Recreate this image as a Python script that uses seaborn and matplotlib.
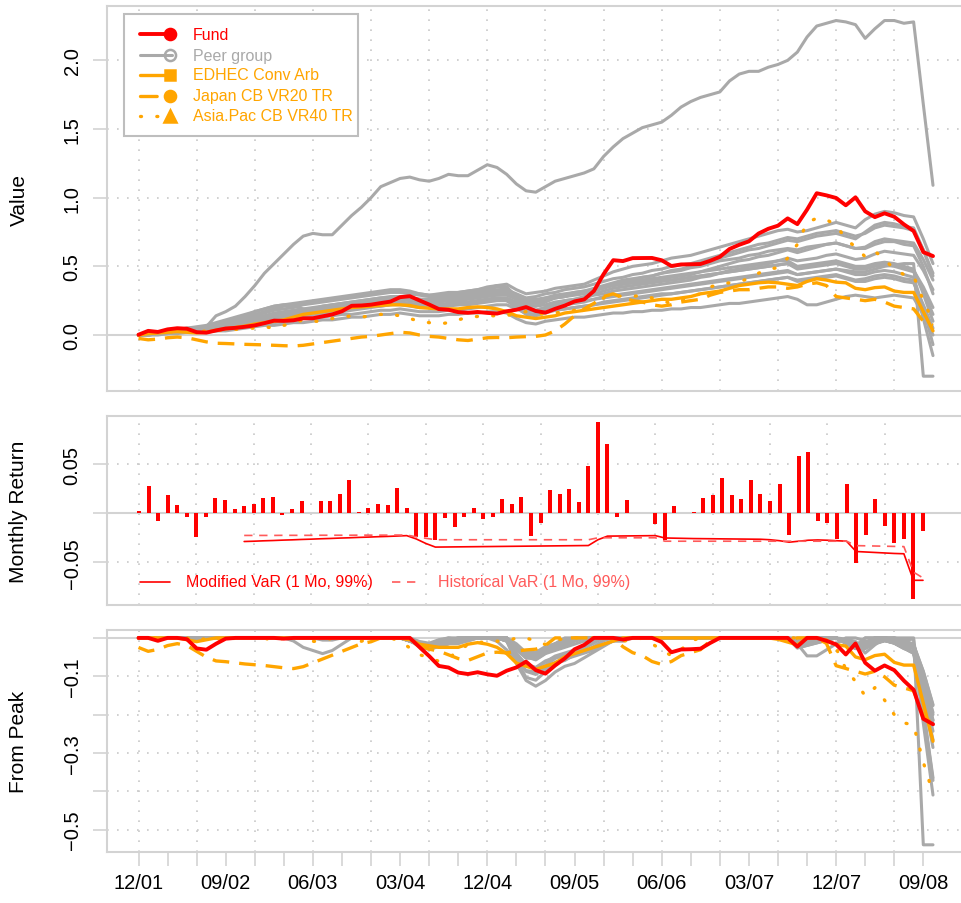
import numpy as np
import matplotlib
matplotlib.use("Agg")
import matplotlib.pyplot as plt
from matplotlib.lines import Line2D
from matplotlib.patches import Rectangle
import seaborn as sns

# ---------------- data ----------------
N_MONTHS = 83  # 12/01 .. 10/08
tick_labels = ["12/01", "09/02", "06/03", "03/04", "12/04", "09/05",
               "06/06", "03/07", "12/07", "09/08"]

fund_returns = [
    0.002, 0.028, -0.0076, 0.0184, 0.008, -0.0035, -0.024, -0.0035, 0.016, 0.0135,
    0.0045, 0.0076, 0.0094, 0.0153, 0.017, -0.002, 0.0042, 0.0128, 0.0003, 0.0125,
    0.0125, 0.020, 0.034, 0.0017, 0.005, 0.0094, 0.0087, 0.026, 0.0056, -0.024,
    -0.024, -0.027, -0.0045, -0.0142, -0.0042, 0.0052, -0.0059, -0.0042, 0.0146, 0.0094,
    0.0163, -0.0236, -0.010, 0.0236, 0.0198, 0.025, 0.0118, 0.0486, 0.093, 0.0705,
    -0.0042, 0.0139, 0.0005, 0.0003, -0.0108, -0.027, 0.0076, 0.0007, 0.0014, 0.0153,
    0.0188, 0.0365, 0.0188, 0.015, 0.034, 0.0198, 0.0128, 0.0295, -0.0226, 0.0583,
    0.0625, -0.0076, -0.0094, -0.0267, 0.0299, -0.051, -0.0222, 0.015, -0.0132, -0.030,
    -0.0267, -0.0875, -0.018]

edhec = [
    0.00, 0.01, 0.015, 0.02, 0.025, 0.02, 0.015, 0.02, 0.035, 0.045,
    0.055, 0.065, 0.08, 0.09, 0.10, 0.11, 0.13, 0.15, 0.16, 0.17,
    0.18, 0.19, 0.20, 0.205, 0.21, 0.215, 0.22, 0.22, 0.215, 0.20,
    0.195, 0.19, 0.19, 0.19, 0.20, 0.205, 0.20, 0.19, 0.17, 0.14,
    0.13, 0.12, 0.13, 0.14, 0.16, 0.17, 0.18, 0.19, 0.20, 0.21,
    0.22, 0.23, 0.24, 0.25, 0.26, 0.26, 0.27, 0.28, 0.30, 0.31,
    0.32, 0.34, 0.36, 0.37, 0.38, 0.385, 0.38, 0.37, 0.36, 0.39,
    0.41, 0.40, 0.385, 0.38, 0.34, 0.33, 0.345, 0.35, 0.32, 0.31,
    0.31, 0.17, 0.03]

japan_cb = [
    -0.025, -0.035, -0.03, -0.02, -0.015, -0.02, -0.035, -0.05, -0.06, -0.062,
    -0.065, -0.068, -0.07, -0.072, -0.075, -0.078, -0.08, -0.075, -0.065, -0.055,
    -0.045, -0.035, -0.025, -0.015, -0.01, 0.00, 0.01, 0.02, 0.015, 0.00,
    -0.01, -0.015, -0.025, -0.035, -0.04, -0.03, -0.02, -0.018, -0.02, -0.015,
    -0.012, -0.01, 0.00, 0.03, 0.08, 0.14, 0.19, 0.23, 0.28, 0.30,
    0.27, 0.25, 0.24, 0.22, 0.21, 0.22, 0.24, 0.25, 0.26, 0.29,
    0.31, 0.32, 0.33, 0.33, 0.34, 0.35, 0.35, 0.34, 0.35, 0.37,
    0.38, 0.36, 0.28, 0.27, 0.26, 0.25, 0.26, 0.24, 0.21, 0.20,
    0.19, 0.10, 0.07]

asiapac_cb = [
    0.00, 0.01, 0.015, 0.02, 0.03, 0.03, 0.02, 0.03, 0.04, 0.03,
    0.04, 0.05, 0.05, 0.06, 0.05, 0.07, 0.09, 0.11, 0.10, 0.10,
    0.12, 0.13, 0.14, 0.13, 0.14, 0.15, 0.15, 0.14, 0.12, 0.10,
    0.09, 0.08, 0.09, 0.11, 0.13, 0.135, 0.14, 0.14, 0.14, 0.16,
    0.17, 0.16, 0.15, 0.16, 0.17, 0.18, 0.20, 0.22, 0.27, 0.29,
    0.28, 0.28, 0.29, 0.27, 0.25, 0.23, 0.25, 0.28, 0.30, 0.35,
    0.37, 0.38, 0.39, 0.41, 0.45, 0.48, 0.49, 0.56, 0.66, 0.82,
    0.85, 0.84, 0.80, 0.70, 0.64, 0.57, 0.61, 0.55, 0.48, 0.44,
    0.43, 0.25, 0.10]

peer_a = [
    0.00, 0.01, 0.02, 0.03, 0.04, 0.05, 0.05, 0.06, 0.08, 0.10,
    0.12, 0.14, 0.17, 0.19, 0.21, 0.22, 0.23, 0.24, 0.25, 0.26,
    0.27, 0.28, 0.29, 0.30, 0.31, 0.32, 0.33, 0.33, 0.32, 0.30,
    0.29, 0.30, 0.31, 0.31, 0.32, 0.33, 0.34, 0.36, 0.37, 0.33,
    0.30, 0.31, 0.32, 0.34, 0.35, 0.36, 0.37, 0.40, 0.43, 0.46,
    0.48, 0.50, 0.51, 0.52, 0.54, 0.56, 0.57, 0.58, 0.60, 0.62,
    0.64, 0.66, 0.68, 0.70, 0.72, 0.74, 0.76, 0.77, 0.75, 0.76,
    0.78, 0.80, 0.82, 0.80, 0.78, 0.84, 0.88, 0.90, 0.89, 0.87,
    0.86, 0.70, 0.52]
peer_b = [
    0.00, 0.01, 0.02, 0.02, 0.03, 0.04, 0.04, 0.05, 0.07, 0.09,
    0.10, 0.12, 0.14, 0.16, 0.18, 0.19, 0.20, 0.22, 0.23, 0.24,
    0.25, 0.26, 0.27, 0.28, 0.29, 0.30, 0.31, 0.31, 0.30, 0.29,
    0.28, 0.28, 0.29, 0.30, 0.30, 0.31, 0.32, 0.33, 0.33, 0.30,
    0.27, 0.28, 0.30, 0.31, 0.33, 0.34, 0.35, 0.37, 0.39, 0.41,
    0.42, 0.44, 0.45, 0.47, 0.48, 0.50, 0.51, 0.52, 0.54, 0.56,
    0.58, 0.60, 0.62, 0.64, 0.66, 0.67, 0.69, 0.71, 0.70, 0.72,
    0.74, 0.75, 0.76, 0.74, 0.72, 0.74, 0.78, 0.80, 0.79, 0.78,
    0.76, 0.62, 0.45]
peer_c = [
    0.00, 0.01, 0.01, 0.02, 0.03, 0.03, 0.03, 0.04, 0.05, 0.07,
    0.08, 0.10, 0.12, 0.13, 0.15, 0.16, 0.17, 0.18, 0.19, 0.20,
    0.21, 0.22, 0.23, 0.24, 0.25, 0.26, 0.27, 0.27, 0.26, 0.25,
    0.24, 0.25, 0.26, 0.26, 0.27, 0.28, 0.29, 0.30, 0.30, 0.27,
    0.24, 0.24, 0.26, 0.27, 0.28, 0.29, 0.30, 0.32, 0.34, 0.36,
    0.37, 0.38, 0.39, 0.40, 0.41, 0.42, 0.43, 0.44, 0.46, 0.48,
    0.50, 0.52, 0.54, 0.55, 0.57, 0.58, 0.60, 0.62, 0.60, 0.62,
    0.64, 0.66, 0.67, 0.65, 0.63, 0.64, 0.68, 0.70, 0.69, 0.68,
    0.67, 0.55, 0.40]
peer_d = [
    0.00, 0.00, 0.01, 0.02, 0.02, 0.03, 0.03, 0.04, 0.05, 0.06,
    0.07, 0.09, 0.10, 0.12, 0.13, 0.14, 0.15, 0.16, 0.17, 0.18,
    0.19, 0.20, 0.21, 0.22, 0.22, 0.23, 0.24, 0.24, 0.23, 0.22,
    0.22, 0.22, 0.23, 0.23, 0.24, 0.25, 0.26, 0.27, 0.27, 0.24,
    0.21, 0.21, 0.22, 0.24, 0.25, 0.26, 0.27, 0.29, 0.30, 0.32,
    0.33, 0.34, 0.35, 0.36, 0.37, 0.38, 0.39, 0.40, 0.42, 0.43,
    0.45, 0.47, 0.48, 0.50, 0.51, 0.52, 0.54, 0.56, 0.54, 0.55,
    0.56, 0.58, 0.59, 0.57, 0.55, 0.56, 0.59, 0.61, 0.60, 0.59,
    0.58, 0.47, 0.33]
peer_e = [
    0.00, 0.01, 0.02, 0.03, 0.03, 0.04, 0.05, 0.06, 0.07, 0.09,
    0.11, 0.13, 0.15, 0.17, 0.19, 0.21, 0.22, 0.23, 0.24, 0.25,
    0.26, 0.27, 0.28, 0.29, 0.30, 0.31, 0.32, 0.32, 0.31, 0.30,
    0.29, 0.29, 0.30, 0.31, 0.32, 0.33, 0.35, 0.36, 0.35, 0.28,
    0.22, 0.21, 0.24, 0.27, 0.28, 0.30, 0.31, 0.33, 0.35, 0.37,
    0.38, 0.39, 0.40, 0.41, 0.42, 0.43, 0.44, 0.45, 0.46, 0.47,
    0.48, 0.49, 0.50, 0.51, 0.52, 0.53, 0.54, 0.54, 0.50, 0.51,
    0.52, 0.53, 0.54, 0.52, 0.50, 0.50, 0.52, 0.53, 0.52, 0.50,
    0.48, 0.30, 0.10]
peer_f = [
    0.00, 0.00, 0.01, 0.01, 0.02, 0.02, 0.03, 0.03, 0.04, 0.05,
    0.06, 0.07, 0.09, 0.10, 0.11, 0.12, 0.13, 0.14, 0.14, 0.15,
    0.16, 0.17, 0.18, 0.19, 0.20, 0.21, 0.22, 0.22, 0.21, 0.20,
    0.20, 0.20, 0.21, 0.22, 0.22, 0.23, 0.24, 0.25, 0.25, 0.22,
    0.19, 0.18, 0.20, 0.22, 0.23, 0.24, 0.25, 0.26, 0.28, 0.29,
    0.30, 0.31, 0.32, 0.33, 0.34, 0.35, 0.36, 0.37, 0.38, 0.39,
    0.40, 0.41, 0.42, 0.43, 0.44, 0.45, 0.46, 0.47, 0.44, 0.45,
    0.46, 0.47, 0.48, 0.46, 0.44, 0.44, 0.46, 0.47, 0.46, 0.44,
    0.42, 0.20, -0.07]
peer_g = [
    0.00, 0.00, 0.01, 0.01, 0.02, 0.02, 0.02, 0.03, 0.03, 0.04,
    0.05, 0.06, 0.07, 0.08, 0.09, 0.10, 0.11, 0.12, 0.12, 0.13,
    0.14, 0.15, 0.15, 0.16, 0.17, 0.18, 0.18, 0.19, 0.18, 0.17,
    0.17, 0.17, 0.18, 0.18, 0.19, 0.20, 0.21, 0.22, 0.22, 0.19,
    0.16, 0.15, 0.17, 0.18, 0.19, 0.20, 0.21, 0.22, 0.23, 0.24,
    0.25, 0.26, 0.27, 0.28, 0.29, 0.30, 0.31, 0.32, 0.33, 0.34,
    0.35, 0.36, 0.37, 0.38, 0.39, 0.40, 0.41, 0.42, 0.40, 0.41,
    0.42, 0.43, 0.44, 0.42, 0.40, 0.41, 0.43, 0.44, 0.43, 0.41,
    0.40, 0.12, -0.15]
peer_h = [
    0.00, 0.00, 0.00, 0.01, 0.01, 0.02, 0.02, 0.02, 0.03, 0.03,
    0.04, 0.05, 0.06, 0.07, 0.07, 0.08, 0.09, 0.09, 0.10, 0.11,
    0.11, 0.12, 0.13, 0.13, 0.14, 0.15, 0.15, 0.16, 0.15, 0.14,
    0.14, 0.14, 0.15, 0.15, 0.16, 0.16, 0.17, 0.17, 0.16, 0.12,
    0.09, 0.08, 0.10, 0.11, 0.12, 0.13, 0.13, 0.14, 0.15, 0.16,
    0.16, 0.17, 0.17, 0.18, 0.18, 0.19, 0.19, 0.20, 0.20, 0.21,
    0.22, 0.23, 0.23, 0.24, 0.25, 0.26, 0.27, 0.28, 0.26, 0.22,
    0.22, 0.24, 0.26, 0.28, 0.29, 0.28, 0.27, 0.28, 0.29, 0.28,
    0.27, 0.15, 0.00]
peer_i = [
    0.00, 0.01, 0.01, 0.02, 0.03, 0.04, 0.04, 0.05, 0.06, 0.07,
    0.09, 0.10, 0.12, 0.14, 0.15, 0.16, 0.17, 0.18, 0.19, 0.21,
    0.22, 0.23, 0.24, 0.25, 0.26, 0.27, 0.28, 0.28, 0.27, 0.26,
    0.25, 0.26, 0.27, 0.27, 0.28, 0.29, 0.30, 0.31, 0.31, 0.29,
    0.26, 0.26, 0.27, 0.29, 0.30, 0.31, 0.32, 0.33, 0.35, 0.36,
    0.37, 0.38, 0.38, 0.39, 0.40, 0.40, 0.41, 0.42, 0.43, 0.44,
    0.45, 0.46, 0.47, 0.48, 0.49, 0.50, 0.51, 0.52, 0.49, 0.50,
    0.51, 0.52, 0.53, 0.51, 0.49, 0.49, 0.51, 0.52, 0.51, 0.49,
    0.47, 0.35, 0.20]
peer_j = [
    0.00, 0.01, 0.02, 0.02, 0.03, 0.04, 0.05, 0.05, 0.06, 0.08,
    0.09, 0.11, 0.13, 0.14, 0.16, 0.17, 0.18, 0.19, 0.20, 0.21,
    0.22, 0.23, 0.24, 0.25, 0.26, 0.27, 0.27, 0.28, 0.27, 0.26,
    0.26, 0.26, 0.27, 0.28, 0.29, 0.30, 0.31, 0.32, 0.31, 0.28,
    0.25, 0.25, 0.27, 0.28, 0.29, 0.31, 0.32, 0.34, 0.36, 0.38,
    0.40, 0.41, 0.42, 0.43, 0.45, 0.46, 0.47, 0.49, 0.50, 0.52,
    0.54, 0.55, 0.56, 0.58, 0.59, 0.61, 0.62, 0.63, 0.62, 0.64,
    0.65, 0.66, 0.67, 0.65, 0.63, 0.63, 0.66, 0.68, 0.68, 0.66,
    0.65, 0.50, 0.30]
peer_k = [
    0.00, 0.00, 0.01, 0.02, 0.02, 0.03, 0.03, 0.04, 0.05, 0.06,
    0.07, 0.08, 0.10, 0.11, 0.12, 0.13, 0.14, 0.15, 0.16, 0.16,
    0.17, 0.18, 0.19, 0.20, 0.21, 0.21, 0.22, 0.23, 0.22, 0.21,
    0.21, 0.21, 0.22, 0.22, 0.23, 0.24, 0.25, 0.26, 0.25, 0.20,
    0.15, 0.14, 0.16, 0.18, 0.19, 0.20, 0.21, 0.22, 0.24, 0.25,
    0.26, 0.27, 0.28, 0.29, 0.30, 0.30, 0.31, 0.32, 0.33, 0.34,
    0.35, 0.36, 0.37, 0.38, 0.39, 0.40, 0.41, 0.42, 0.39, 0.40,
    0.41, 0.42, 0.43, 0.41, 0.39, 0.39, 0.41, 0.42, 0.41, 0.39,
    0.38, 0.22, 0.05]
peer_l = [
    0.00, 0.01, 0.01, 0.02, 0.03, 0.03, 0.04, 0.05, 0.06, 0.07,
    0.08, 0.10, 0.11, 0.13, 0.14, 0.15, 0.16, 0.17, 0.18, 0.19,
    0.20, 0.21, 0.22, 0.23, 0.24, 0.25, 0.25, 0.26, 0.25, 0.24,
    0.23, 0.24, 0.25, 0.25, 0.26, 0.27, 0.28, 0.29, 0.29, 0.26,
    0.23, 0.23, 0.25, 0.27, 0.28, 0.30, 0.31, 0.33, 0.35, 0.37,
    0.39, 0.40, 0.42, 0.43, 0.45, 0.47, 0.48, 0.50, 0.52, 0.54,
    0.56, 0.58, 0.60, 0.62, 0.63, 0.65, 0.67, 0.69, 0.68, 0.70,
    0.72, 0.73, 0.74, 0.72, 0.70, 0.75, 0.80, 0.82, 0.81, 0.79,
    0.78, 0.62, 0.43]
peer_m = [
    0.00, 0.01, 0.01, 0.02, 0.02, 0.03, 0.04, 0.04, 0.05, 0.06,
    0.08, 0.09, 0.10, 0.12, 0.13, 0.14, 0.15, 0.16, 0.17, 0.18,
    0.19, 0.20, 0.21, 0.21, 0.22, 0.23, 0.24, 0.24, 0.23, 0.22,
    0.22, 0.22, 0.23, 0.24, 0.24, 0.25, 0.26, 0.27, 0.26, 0.22,
    0.18, 0.17, 0.19, 0.21, 0.22, 0.23, 0.24, 0.26, 0.27, 0.28,
    0.29, 0.30, 0.31, 0.32, 0.33, 0.34, 0.35, 0.36, 0.37, 0.38,
    0.39, 0.40, 0.41, 0.42, 0.43, 0.44, 0.45, 0.46, 0.44, 0.45,
    0.46, 0.47, 0.48, 0.47, 0.46, 0.46, 0.48, 0.50, 0.51, 0.52,
    0.52, -0.30, -0.30]
peer_n = [
    0.00, 0.01, 0.02, 0.03, 0.04, 0.05, 0.06, 0.07, 0.09, 0.11,
    0.13, 0.15, 0.17, 0.19, 0.21, 0.22, 0.21, 0.19, 0.18, 0.17,
    0.18, 0.20, 0.22, 0.24, 0.25, 0.26, 0.27, 0.28, 0.27, 0.26,
    0.26, 0.27, 0.28, 0.29, 0.30, 0.31, 0.33, 0.35, 0.34, 0.26,
    0.20, 0.18, 0.20, 0.23, 0.25, 0.26, 0.28, 0.30, 0.32, 0.34,
    0.35, 0.36, 0.37, 0.38, 0.39, 0.40, 0.41, 0.42, 0.43, 0.44,
    0.45, 0.46, 0.47, 0.48, 0.49, 0.50, 0.51, 0.52, 0.48, 0.49,
    0.50, 0.51, 0.52, 0.50, 0.48, 0.48, 0.50, 0.51, 0.50, 0.48,
    0.46, 0.32, 0.15]
peer_o = [
    0.00, 0.01, 0.01, 0.02, 0.02, 0.03, 0.03, 0.06, 0.14, 0.17,
    0.21, 0.28, 0.36, 0.45, 0.52, 0.59, 0.66, 0.72, 0.74, 0.73,
    0.73, 0.80, 0.87, 0.93, 1.00, 1.08, 1.11, 1.14, 1.15, 1.13,
    1.12, 1.14, 1.17, 1.16, 1.16, 1.20, 1.24, 1.22, 1.17, 1.10,
    1.05, 1.04, 1.08, 1.12, 1.14, 1.16, 1.18, 1.21, 1.30, 1.37,
    1.43, 1.47, 1.51, 1.53, 1.55, 1.60, 1.66, 1.70, 1.73, 1.75,
    1.77, 1.85, 1.90, 1.92, 1.92, 1.95, 1.97, 2.00, 2.06, 2.17,
    2.25, 2.27, 2.29, 2.28, 2.26, 2.16, 2.23, 2.29, 2.29, 2.27,
    2.28, 1.68, 1.09]

VAR_START = 11
modified_var = [
    -0.0288, -0.0285, -0.0281, -0.0278, -0.0274, -0.0271, -0.0267, -0.0264, -0.0260,
    -0.0257, -0.0253, -0.0250, -0.0246, -0.0243, -0.0239, -0.0236, -0.0232, -0.0228,
    -0.0262, -0.0308, -0.0345, -0.0344, -0.0343, -0.0342, -0.0341, -0.0340, -0.0339,
    -0.0338, -0.0337, -0.0336, -0.0335, -0.0334, -0.0333, -0.0332, -0.0331, -0.0330,
    -0.0329, -0.0270, -0.0233, -0.0232, -0.0231, -0.0230, -0.0229, -0.0228, -0.0252,
    -0.0254, -0.0256, -0.0258, -0.0259, -0.0260, -0.0261, -0.0262, -0.0263, -0.0264,
    -0.0265, -0.0270, -0.0280, -0.0295, -0.0285, -0.0275, -0.0272, -0.0275, -0.0280,
    -0.0285, -0.0390, -0.0395, -0.0400, -0.0405, -0.0410, -0.0413, -0.0684, -0.0684]
historical_var = [
    -0.0226, -0.0226, -0.0226, -0.0226, -0.0225, -0.0225, -0.0225, -0.0225, -0.0224,
    -0.0224, -0.0224, -0.0224, -0.0223, -0.0223, -0.0223, -0.0223, -0.0222, -0.0222,
    -0.0240, -0.0255, -0.0270, -0.0270, -0.0270, -0.0270, -0.0270, -0.0270, -0.0270,
    -0.0270, -0.0270, -0.0270, -0.0270, -0.0270, -0.0270, -0.0270, -0.0270, -0.0270,
    -0.0270, -0.0250, -0.0250, -0.0250, -0.0250, -0.0250, -0.0250, -0.0250, -0.0285,
    -0.0285, -0.0285, -0.0285, -0.0285, -0.0285, -0.0285, -0.0285, -0.0285, -0.0285,
    -0.0285, -0.0285, -0.0285, -0.0285, -0.0285, -0.0285, -0.0285, -0.0285, -0.0285,
    -0.0285, -0.0330, -0.0332, -0.0334, -0.0336, -0.0338, -0.0340, -0.0600, -0.0660]

peers = [peer_a, peer_b, peer_c, peer_d, peer_e, peer_f, peer_g, peer_h,
         peer_i, peer_j, peer_k, peer_l, peer_m, peer_n, peer_o]
for p in peers + [edhec, japan_cb, asiapac_cb, fund_returns]:
    assert len(p) == N_MONTHS, len(p)
assert len(modified_var) == N_MONTHS - VAR_START
assert len(historical_var) == N_MONTHS - VAR_START

# ---------------- derived series ----------------
idx = np.arange(N_MONTHS)
fund_value = np.cumprod(1 + np.array(fund_returns)) - 1


def drawdown(values):
    wealth = 1 + np.asarray(values, dtype=float)
    peak = np.maximum.accumulate(np.maximum(wealth, 1.0))
    return wealth / peak - 1


# ---------------- style ----------------
sns.set_theme(style="white")
plt.rcParams["font.family"] = ["Liberation Sans", "DejaVu Sans"]
plt.rcParams["axes.unicode_minus"] = True

RED = "#FF0000"
GREY = "#A9A9A9"
ORANGE = "#FFA500"
LIGHTRED = "#FF5A5A"
FRAME = "#D3D3D3"
GRID = "#C8C8C8"

W, H = 961, 904
fig = plt.figure(figsize=(W / 100, H / 100), dpi=100)


def fx(px):
    return px / W


def fy(py):
    return 1 - py / H


LEFT, RIGHT = 106.7, 963.0
ax_top = fig.add_axes([fx(LEFT), fy(392.3), (RIGHT - LEFT) / W, (392.3 - 6.7) / H])
ax_mid = fig.add_axes([fx(LEFT), fy(605.7), (RIGHT - LEFT) / W, (605.7 - 417.3) / H])
ax_bot = fig.add_axes([fx(LEFT), fy(853.3), (RIGHT - LEFT) / W, (853.3 - 631.0) / H])

xlim_main = ((LEFT - 138.5) / 9.689, (RIGHT - 138.5) / 9.689)
xlim_mid = ((LEFT - 139.0) / 9.561, (RIGHT - 139.0) / 9.561)

DOT = (0, (1, 5))


def frame(ax, xlim, ylim, hgrid, zero=True):
    ax.set_xlim(*xlim)
    ax.set_ylim(*ylim)
    for s in ax.spines.values():
        s.set_visible(True)
        s.set_color(FRAME)
        s.set_linewidth(1.5)
    for v in range(0, 79, 6):
        ax.axvline(v, color=GRID, lw=1.2, ls=DOT, zorder=0.5)
    for h in hgrid:
        ax.axhline(h, color=GRID, lw=1.2, ls=DOT, zorder=0.5)
    if zero:
        ax.axhline(0, color=FRAME, lw=1.5, zorder=1)
    ax.set_xlabel("")
    ax.set_ylabel("")
    ax.tick_params(axis="y", left=True, length=10, width=1.2, color=FRAME,
                   labelsize=14.5, pad=8, labelcolor="black")


def line(ax, y, color, lw, ls=None, z=2, cap="butt"):
    sns.lineplot(x=idx, y=y, ax=ax, color=color, linewidth=lw, legend=False,
                 estimator=None, sort=False, zorder=z)
    ln = ax.get_lines()[-1]
    if ls is not None:
        ln.set_linestyle(ls)
    ln.set_dash_capstyle(cap)
    ln.set_solid_joinstyle("round")


# ---------------- panel 1: cumulative value ----------------
for p in peers:
    line(ax_top, p, GREY, 2.2, z=2)
line(ax_top, edhec, ORANGE, 2.4, z=3)
line(ax_top, japan_cb, ORANGE, 2.4, ls=(0, (5, 3)), z=3)
line(ax_top, asiapac_cb, ORANGE, 2.4, ls=(0, (0.3, 4.6)), z=3, cap="round")
line(ax_top, fund_value, RED, 2.8, z=4)
frame(ax_top, xlim_main, (-0.410, 2.398), [0.5, 1.0, 1.5, 2.0])
ax_top.set_xticks([])
ax_top.set_yticks([0, 0.5, 1.0, 1.5, 2.0], ["0.0", "0.5", "1.0", "1.5", "2.0"],
                  rotation=90, va="center")

# ---------------- panel 2: monthly returns + VaR ----------------
sns.barplot(x=idx, y=fund_returns, native_scale=True, width=0.42, color=RED,
            saturation=1, errorbar=None, edgecolor="none", linewidth=0,
            ax=ax_mid, zorder=3)
var_x = idx[VAR_START:]
sns.lineplot(x=var_x, y=modified_var, ax=ax_mid, color=RED, linewidth=1.2,
             legend=False, estimator=None, sort=False, zorder=4)
sns.lineplot(x=var_x, y=historical_var, ax=ax_mid, color=LIGHTRED, linewidth=1.2,
             legend=False, estimator=None, sort=False, zorder=4)
ax_mid.get_lines()[-1].set_linestyle((0, (5, 4)))
frame(ax_mid, xlim_mid, (-0.0933, 0.099), [-0.05, 0.05])
ax_mid.set_xticks([])
ax_mid.set_yticks([-0.05, 0, 0.05], ["\u22120.05", "", "0.05"], rotation=90, va="center")

# ---------------- panel 3: drawdown ----------------
for p in peers:
    line(ax_bot, drawdown(p), GREY, 2.2, z=2)
line(ax_bot, drawdown(edhec), ORANGE, 2.4, z=3)
line(ax_bot, drawdown(japan_cb), ORANGE, 2.4, ls=(0, (5, 3)), z=3)
line(ax_bot, drawdown(asiapac_cb), ORANGE, 2.4, ls=(0, (0.3, 4.6)), z=3, cap="round")
line(ax_bot, drawdown(fund_value), RED, 2.8, z=4)
frame(ax_bot, xlim_main, (-0.559, 0.0206), [-0.1, -0.2, -0.3, -0.4, -0.5])
ax_bot.set_yticks([0, -0.1, -0.2, -0.3, -0.4, -0.5],
                  ["", "\u22120.1", "", "\u22120.3", "", "\u22120.5"],
                  rotation=90, va="center")
xt = list(range(0, 82, 3))
xl = [tick_labels[k // 9] if k % 9 == 0 else "" for k in xt]
ax_bot.set_xticks(xt, xl)
ax_bot.tick_params(axis="x", bottom=True, length=10, width=1.2, color=FRAME,
                   labelsize=14.5, pad=5, labelcolor="black")

# ---------------- axis titles ----------------
for txt, yc in [("Value", 199.5), ("Monthly Return", 511.5), ("From Peak", 742)]:
    fig.text(fx(19), fy(yc), txt, rotation=90, ha="center", va="center",
             fontsize=15, color="black")

# ---------------- legend (panel 1) ----------------
fig.patches.append(Rectangle((fx(124), fy(137)), fx(358) - fx(124), fy(15) - fy(137),
                             transform=fig.transFigure, facecolor="white",
                             edgecolor="#BEBEBE", lw=1.5, zorder=5))
legend_items = [
    ("Fund", RED, "-", "o", RED, 2.8, 8),
    ("Peer group", GREY, "-", "o", "none", 2.2, 8),
    ("EDHEC Conv Arb", ORANGE, "-", "s", ORANGE, 2.4, 7.5),
    ("Japan CB VR20 TR", ORANGE, (0, (5, 3)), "o", ORANGE, 2.4, 8),
    ("Asia.Pac CB VR40 TR", ORANGE, (0, (0.3, 4.6)), "^", ORANGE, 2.4, 9),
]
rows_y = [35, 56, 76, 96.7, 116.7]
for (lab, col, ls, mk, mfc, lw, ms), yy in zip(legend_items, rows_y):
    seg = Line2D([fx(140), fx(172)], [fy(yy), fy(yy)], transform=fig.transFigure,
                 color=col, lw=lw, ls=ls, zorder=6, dash_capstyle="round")
    fig.add_artist(seg)
    mark = Line2D([fx(170)], [fy(yy)], transform=fig.transFigure, ls="none",
                  marker=mk, markersize=ms, markerfacecolor=mfc, markeredgecolor=col,
                  markeredgewidth=1.8, zorder=7)
    fig.add_artist(mark)
    fig.text(fx(193), fy(yy), lab, color=col, fontsize=11.5, ha="left",
             va="center", zorder=7)

# ---------------- legend (panel 2) ----------------
fig.add_artist(Line2D([fx(140), fx(170)], [fy(582.7), fy(582.7)],
                      transform=fig.transFigure, color=RED, lw=1.2, zorder=6))
fig.text(fx(186), fy(582.7), "Modified VaR (1 Mo, 99%)", color=RED, fontsize=11.5,
         ha="left", va="center", zorder=7)
fig.add_artist(Line2D([fx(392), fx(422)], [fy(582.7), fy(582.7)],
                      transform=fig.transFigure, color=LIGHTRED, lw=1.2,
                      ls=(0, (5, 4)), zorder=6))
fig.text(fx(437.7), fy(582.7), "Historical VaR (1 Mo, 99%)", color=LIGHTRED,
         fontsize=11.5, ha="left", va="center", zorder=7)

fig.savefig("out.png", dpi=100)
